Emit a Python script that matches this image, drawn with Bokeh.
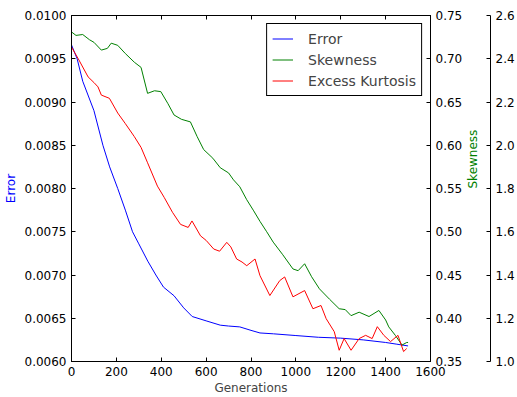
import math
from bokeh.plotting import figure
from bokeh.models import Range1d, LinearAxis, FixedTicker, Legend, LegendItem
from bokeh.embed import file_html
from bokeh.resources import INLINE

# ---- data ----
err_gen = [0, 25, 50, 100, 140, 170, 206, 240, 272, 300, 340, 376, 410, 457, 500, 538,
           600, 663, 700, 750, 800, 840, 900, 1000, 1100, 1200, 1300, 1400, 1450, 1500]
err_val = [0.00966, 0.00950, 0.00924, 0.00890, 0.00850, 0.00825, 0.00800, 0.00775, 0.00750,
           0.00736, 0.00716, 0.00700, 0.00686, 0.00676, 0.00662, 0.00652, 0.00647, 0.00642,
           0.00641, 0.00640, 0.00636, 0.00633, 0.00632, 0.00630, 0.00628, 0.00627, 0.00625,
           0.00622, 0.00620, 0.00618]

skew_gen = [0, 20, 50, 80, 100, 133, 160, 177, 206, 240, 280, 310, 339, 370, 398, 430, 457,
            490, 530, 560, 589, 630, 663, 700, 722, 750, 781, 810, 840, 870, 899, 940, 987,
            1010, 1039, 1070, 1105, 1150, 1193, 1220, 1246, 1282, 1326, 1370, 1400, 1414,
            1444, 1473, 1494, 1500]
skew_val = [0.731, 0.727, 0.728, 0.722, 0.719, 0.710, 0.712, 0.718, 0.7155, 0.706, 0.696,
            0.690, 0.660, 0.663, 0.662, 0.648, 0.635, 0.630, 0.627, 0.610, 0.595, 0.585,
            0.574, 0.568, 0.560, 0.552, 0.537, 0.525, 0.512, 0.500, 0.488, 0.474, 0.457,
            0.455, 0.463, 0.448, 0.434, 0.422, 0.411, 0.410, 0.403, 0.407, 0.402, 0.409,
            0.398, 0.390, 0.380, 0.369, 0.372, 0.372]

kurt_gen = [0, 30, 74, 100, 118, 133, 169, 206, 240, 280, 310, 339, 383, 413, 450, 486, 520,
            537, 575, 600, 634, 660, 692, 710, 736, 760, 781, 818, 840, 884, 928, 950, 987,
            1039, 1076, 1112, 1135, 1171, 1193, 1215, 1246, 1282, 1311, 1340, 1363, 1392,
            1422, 1455, 1480, 1494]
kurt_val = [2.454, 2.400, 2.316, 2.290, 2.270, 2.232, 2.217, 2.149, 2.100, 2.040, 1.990,
            1.919, 1.811, 1.759, 1.690, 1.634, 1.620, 1.650, 1.581, 1.560, 1.520, 1.510,
            1.551, 1.530, 1.474, 1.460, 1.443, 1.474, 1.397, 1.305, 1.374, 1.391, 1.299,
            1.328, 1.244, 1.259, 1.198, 1.138, 1.052, 1.106, 1.052, 1.106, 1.121, 1.106,
            1.161, 1.121, 1.092, 1.121, 1.046, 1.060]

x_ticks = [0, 200, 400, 600, 800, 1000, 1200, 1400, 1600]
err_ticks = [0.0060, 0.0065, 0.0070, 0.0075, 0.0080, 0.0085, 0.0090, 0.0095, 0.0100]
err_labels = ["0.0060", "0.0065", "0.0070", "0.0075", "0.0080", "0.0085", "0.0090", "0.0095", "0.0100"]
skew_ticks = [0.35, 0.40, 0.45, 0.50, 0.55, 0.60, 0.65, 0.70, 0.75]
skew_labels = ["0.35", "0.40", "0.45", "0.50", "0.55", "0.60", "0.65", "0.70", "0.75"]
kurt_ticks = [1.0, 1.2, 1.4, 1.6, 1.8, 2.0, 2.2, 2.4, 2.6]
kurt_labels = ["1.0", "1.2", "1.4", "1.6", "1.8", "2.0", "2.2", "2.4", "2.6"]

FONT = "DejaVu Sans"

p = figure(width=517, height=397, output_backend="svg", toolbar_location=None,
           x_range=Range1d(0, 1600), y_range=Range1d(0.0060, 0.0100),
           min_border_left=70, min_border_right=85, min_border_top=15, min_border_bottom=34)
p.extra_y_ranges = {"skew": Range1d(0.35, 0.75), "kurt": Range1d(1.0, 2.6)}
p.grid.visible = False
p.outline_line_color = "black"
p.outline_line_alpha = 1.0
p.background_fill_color = "white"
p.border_fill_color = "white"


def style(ax, ticks, labels, size="12px"):
    ax.ticker = FixedTicker(ticks=ticks)
    ax.major_label_overrides = {t: l for t, l in zip(ticks, labels)}
    ax.major_tick_in = 4
    ax.major_tick_out = 0
    ax.minor_tick_line_color = None
    ax.axis_line_color = "black"
    ax.major_tick_line_color = "black"
    ax.major_label_text_font = FONT
    ax.major_label_text_font_size = size
    ax.major_label_text_color = "black"
    ax.axis_label_text_font = FONT
    ax.axis_label_text_font_size = "12px"
    ax.axis_label_text_font_style = "normal"
    ax.major_label_standoff = 5


xa = p.xaxis[0]
style(xa, x_ticks, [str(t) for t in x_ticks])
xa.axis_label = "Generations"
xa.axis_label_standoff = 2

ya = p.yaxis[0]
style(ya, err_ticks, err_labels)
ya.axis_label = "Error"
ya.axis_label_text_color = "blue"
ya.axis_label_standoff = 4

top = LinearAxis()
style(top, x_ticks, ["" for _ in x_ticks], size="0px")
p.add_layout(top, "above")

ax_s = LinearAxis(y_range_name="skew", axis_label="Skewness")
style(ax_s, skew_ticks, skew_labels)
ax_s.axis_label_text_color = "green"
ax_s.axis_label_standoff = 8
try:
    ax_s.axis_label_orientation = math.pi / 2
except Exception:
    pass
p.add_layout(ax_s, "right")

ax_k = LinearAxis(y_range_name="kurt")
style(ax_k, kurt_ticks, kurt_labels)
p.add_layout(ax_k, "right")

r_err = p.line(err_gen, err_val, line_color="blue", line_width=1)
r_skew = p.line(skew_gen, skew_val, line_color="green", line_width=1, y_range_name="skew")
r_kurt = p.line(kurt_gen, kurt_val, line_color="red", line_width=1, y_range_name="kurt")

legend = Legend(items=[LegendItem(label="Error", renderers=[r_err]),
                       LegendItem(label="Skewness", renderers=[r_skew]),
                       LegendItem(label="Excess Kurtosis", renderers=[r_kurt])],
                location="top_right")
legend.margin = 8
legend.padding = 5
legend.spacing = 2
legend.label_text_font = FONT
legend.label_text_font_size = "14px"
legend.label_standoff = 15
legend.glyph_width = 21
legend.glyph_height = 19
legend.label_height = 19
legend.border_line_color = "black"
legend.border_line_alpha = 1.0
legend.border_line_width = 1
legend.background_fill_alpha = 1.0
p.add_layout(legend)

open("out.html", "w").write(file_html(p, INLINE))
